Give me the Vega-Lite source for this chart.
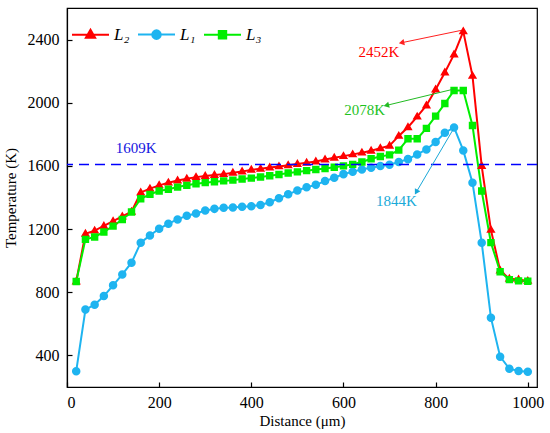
{
  "$schema": "https://vega.github.io/schema/vega-lite/v6.json",
  "width": 470,
  "height": 379,
  "autosize": {"type": "none"},
  "padding": {"left": 67, "top": 8, "right": 13, "bottom": 46},
  "background": "white",
  "config": {
    "font": "Liberation Serif",
    "view": {"stroke": "#000000", "strokeWidth": 1.2},
    "axis": {
      "grid": false,
      "domainColor": "#000000",
      "domainWidth": 1.2,
      "tickColor": "#000000",
      "tickWidth": 1.2,
      "tickSize": -5,
      "labelColor": "#000000",
      "labelFontSize": 16,
      "labelFont": "Liberation Serif",
      "titleFont": "Liberation Serif",
      "titleColor": "#000000",
      "titleFontSize": 15,
      "titleFontWeight": "normal",
      "format": "d"
    }
  },
  "datasets": {
    "temps": [
      {"d": 20, "L₂": 868, "L₁": 300, "L₃": 868},
      {"d": 40, "L₂": 1170, "L₁": 690, "L₃": 1135},
      {"d": 60, "L₂": 1190, "L₁": 721, "L₃": 1150},
      {"d": 80, "L₂": 1220, "L₁": 776, "L₃": 1182},
      {"d": 100, "L₂": 1250, "L₁": 844, "L₃": 1219},
      {"d": 120, "L₂": 1280, "L₁": 913, "L₃": 1261},
      {"d": 140, "L₂": 1310, "L₁": 987, "L₃": 1308},
      {"d": 160, "L₂": 1432, "L₁": 1114, "L₃": 1392},
      {"d": 180, "L₂": 1456, "L₁": 1160, "L₃": 1420},
      {"d": 200, "L₂": 1477, "L₁": 1202, "L₃": 1441},
      {"d": 220, "L₂": 1494, "L₁": 1234, "L₃": 1452},
      {"d": 240, "L₂": 1508, "L₁": 1261, "L₃": 1466},
      {"d": 260, "L₂": 1519, "L₁": 1285, "L₃": 1477},
      {"d": 280, "L₂": 1529, "L₁": 1299, "L₃": 1487},
      {"d": 300, "L₂": 1536, "L₁": 1318, "L₃": 1494},
      {"d": 320, "L₂": 1542, "L₁": 1328, "L₃": 1500},
      {"d": 340, "L₂": 1548, "L₁": 1335, "L₃": 1505},
      {"d": 360, "L₂": 1556, "L₁": 1337, "L₃": 1510},
      {"d": 380, "L₂": 1565, "L₁": 1342, "L₃": 1517},
      {"d": 400, "L₂": 1575, "L₁": 1345, "L₃": 1523},
      {"d": 420, "L₂": 1582, "L₁": 1352, "L₃": 1530},
      {"d": 440, "L₂": 1590, "L₁": 1370, "L₃": 1538},
      {"d": 460, "L₂": 1597, "L₁": 1395, "L₃": 1546},
      {"d": 480, "L₂": 1604, "L₁": 1420, "L₃": 1555},
      {"d": 500, "L₂": 1612, "L₁": 1445, "L₃": 1562},
      {"d": 520, "L₂": 1620, "L₁": 1465, "L₃": 1570},
      {"d": 540, "L₂": 1628, "L₁": 1480, "L₃": 1577},
      {"d": 560, "L₂": 1640, "L₁": 1504, "L₃": 1584},
      {"d": 580, "L₂": 1652, "L₁": 1525, "L₃": 1592},
      {"d": 600, "L₂": 1662, "L₁": 1548, "L₃": 1600},
      {"d": 620, "L₂": 1673, "L₁": 1563, "L₃": 1610},
      {"d": 640, "L₂": 1684, "L₁": 1578, "L₃": 1625},
      {"d": 660, "L₂": 1696, "L₁": 1589, "L₃": 1645},
      {"d": 680, "L₂": 1712, "L₁": 1599, "L₃": 1660},
      {"d": 700, "L₂": 1728, "L₁": 1607, "L₃": 1670},
      {"d": 720, "L₂": 1790, "L₁": 1625, "L₃": 1700},
      {"d": 740, "L₂": 1845, "L₁": 1643, "L₃": 1772},
      {"d": 760, "L₂": 1912, "L₁": 1673, "L₃": 1772},
      {"d": 780, "L₂": 1983, "L₁": 1704, "L₃": 1838},
      {"d": 800, "L₂": 2084, "L₁": 1751, "L₃": 1915},
      {"d": 820, "L₂": 2192, "L₁": 1810, "L₃": 1995},
      {"d": 840, "L₂": 2306, "L₁": 1844, "L₃": 2078},
      {"d": 860, "L₂": 2452, "L₁": 1698, "L₃": 2078},
      {"d": 880, "L₂": 2170, "L₁": 1494, "L₃": 1856},
      {"d": 900, "L₂": 1599, "L₁": 1114, "L₃": 1441},
      {"d": 920, "L₂": 1195, "L₁": 639, "L₃": 1114},
      {"d": 940, "L₂": 938, "L₁": 392, "L₃": 930},
      {"d": 960, "L₂": 885, "L₁": 316, "L₃": 880},
      {"d": 980, "L₂": 880, "L₁": 301, "L₃": 872},
      {"d": 1000, "L₂": 872, "L₁": 297, "L₃": 870}
    ]
  },
  "layer": [
    {
      "data": {"name": "temps"},
      "transform": [{"fold": ["L₂", "L₁", "L₃"], "as": ["s", "T"]}],
      "mark": {"type": "line", "strokeWidth": 2},
      "encoding": {
        "x": {
          "field": "d",
          "type": "quantitative",
          "scale": {"domain": [0, 1020], "nice": false},
          "axis": {"title": "Distance (μm)", "values": [0, 200, 400, 600, 800, 1000], "labelPadding": 12, "titlePadding": 3}
        },
        "y": {
          "field": "T",
          "type": "quantitative",
          "scale": {"domain": [200, 2600], "nice": false},
          "axis": {"title": "Temperature (K)", "values": [400, 800, 1200, 1600, 2000, 2400], "labelPadding": 13, "titlePadding": 9}
        },
        "color": {
          "field": "s",
          "type": "nominal",
          "scale": {"domain": ["L₂", "L₁", "L₃"], "range": ["#FF0000", "#1EB4F0", "#00EE00"]},
          "legend": {
            "title": null,
            "orient": "none",
            "legendX": 4,
            "legendY": 7,
            "direction": "horizontal",
            "columns": 3,
            "columnPadding": 4,
            "symbolSize": 1369,
            "symbolStrokeWidth": 2,
            "labelOffset": 4,
            "labelFontSize": 17,
            "labelFontStyle": "italic",
            "labelColor": "#000000",
            "encode": {
              "symbols": {
                "update": {
                  "fill": {"scale": "color", "field": "value"},
                  "stroke": {"scale": "color", "field": "value"},
                  "strokeWidth": {"value": 2},
                  "opacity": {"value": 1}
                }
              }
            }
          }
        }
      }
    },
    {
      "data": {"name": "temps"},
      "transform": [{"fold": ["L₂", "L₁", "L₃"], "as": ["s", "T"]}],
      "mark": {"type": "point", "filled": true, "opacity": 1, "size": 1369, "strokeWidth": 0},
      "encoding": {
        "x": {"field": "d", "type": "quantitative"},
        "y": {"field": "T", "type": "quantitative"},
        "color": {"field": "s", "type": "nominal"},
        "shape": {
          "field": "s",
          "type": "nominal",
          "scale": {
            "domain": ["L₂", "L₁", "L₃"],
            "range": [
              "M-1,0H1M0,-0.27L0.25,0.16L-0.25,0.16Z",
              "M-1,0H1M0.23,0A0.23,0.23,0,1,1,-0.23,0A0.23,0.23,0,1,1,0.23,0Z",
              "M-1,0H1M-0.2,-0.2H0.2V0.2H-0.2Z"
            ]
          },
          "legend": null
        }
      }
    },
    {
      "data": {"values": [{"T": 1609}]},
      "mark": {"type": "rule", "color": "#0000FF", "strokeWidth": 1.5, "strokeDash": [10, 6]},
      "encoding": {"y": {"field": "T", "type": "quantitative"}}
    },
    {
      "data": {"values": [{"d": 150, "T": 1711, "label": "1609K"}]},
      "mark": {"type": "text", "color": "#1515E0", "fontSize": 15, "align": "center", "baseline": "middle"},
      "encoding": {
        "x": {"field": "d", "type": "quantitative"},
        "y": {"field": "T", "type": "quantitative"},
        "text": {"field": "label"}
      }
    },
    {
      "data": {"values": [{"d": 677, "T": 2320, "label": "2452K", "d0": 855, "T0": 2458, "d2": 726, "T2": 2380}]},
      "layer": [
        {
          "mark": {"type": "rule", "color": "#FF2020", "strokeWidth": 1},
          "encoding": {
            "x": {"field": "d0", "type": "quantitative"},
            "y": {"field": "T0", "type": "quantitative"},
            "x2": {"field": "d2"},
            "y2": {"field": "T2"}
          }
        },
        {
          "mark": {"type": "point", "shape": "triangle-left", "filled": true, "opacity": 1, "size": 40, "angle": 348, "color": "#FF2020"},
          "encoding": {
            "x": {"field": "d2", "type": "quantitative"},
            "y": {"field": "T2", "type": "quantitative"}
          }
        },
        {
          "mark": {"type": "text", "color": "#FF0000", "fontSize": 15, "align": "center", "baseline": "middle"},
          "encoding": {
            "x": {"field": "d", "type": "quantitative"},
            "y": {"field": "T", "type": "quantitative"},
            "text": {"field": "label"}
          }
        }
      ]
    },
    {
      "data": {"values": [{"d": 646, "T": 1957, "label": "2078K", "d0": 843, "T0": 2089, "d2": 693, "T2": 1983}]},
      "layer": [
        {
          "mark": {"type": "rule", "color": "#22BB22", "strokeWidth": 1},
          "encoding": {
            "x": {"field": "d0", "type": "quantitative"},
            "y": {"field": "T0", "type": "quantitative"},
            "x2": {"field": "d2"},
            "y2": {"field": "T2"}
          }
        },
        {
          "mark": {"type": "point", "shape": "triangle-left", "filled": true, "opacity": 1, "size": 40, "angle": 346, "color": "#22BB22"},
          "encoding": {
            "x": {"field": "d2", "type": "quantitative"},
            "y": {"field": "T2", "type": "quantitative"}
          }
        },
        {
          "mark": {"type": "text", "color": "#1EC21E", "fontSize": 15, "align": "center", "baseline": "middle"},
          "encoding": {
            "x": {"field": "d", "type": "quantitative"},
            "y": {"field": "T", "type": "quantitative"},
            "text": {"field": "label"}
          }
        }
      ]
    },
    {
      "data": {"values": [{"d": 715, "T": 1377, "label": "1844K", "d0": 838, "T0": 1831, "d2": 758, "T2": 1434}]},
      "layer": [
        {
          "mark": {"type": "rule", "color": "#1AA8D8", "strokeWidth": 1},
          "encoding": {
            "x": {"field": "d0", "type": "quantitative"},
            "y": {"field": "T0", "type": "quantitative"},
            "x2": {"field": "d2"},
            "y2": {"field": "T2"}
          }
        },
        {
          "mark": {"type": "point", "shape": "triangle-left", "filled": true, "opacity": 1, "size": 40, "angle": 300, "color": "#1AA8D8"},
          "encoding": {
            "x": {"field": "d2", "type": "quantitative"},
            "y": {"field": "T2", "type": "quantitative"}
          }
        },
        {
          "mark": {"type": "text", "color": "#1AAAD8", "fontSize": 15, "align": "center", "baseline": "middle"},
          "encoding": {
            "x": {"field": "d", "type": "quantitative"},
            "y": {"field": "T", "type": "quantitative"},
            "text": {"field": "label"}
          }
        }
      ]
    }
  ]
}
